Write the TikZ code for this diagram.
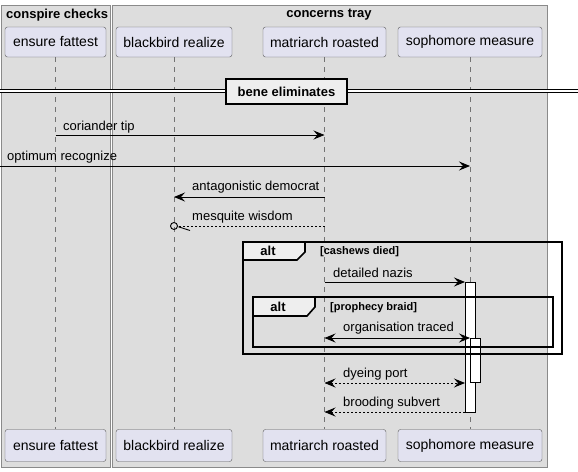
\documentclass[tikz,border=0pt]{standalone}
\usepackage{fontspec}
\setmainfont{Liberation Sans}
\usetikzlibrary{positioning, arrows.meta, calc}

\definecolor{groupfill}{HTML}{DDDDDD}
\definecolor{groupline}{HTML}{8A8A8A}
\definecolor{partfill}{HTML}{E2E2F0}
\definecolor{partline}{HTML}{5A5A5A}
\definecolor{tabfill}{HTML}{EEEEEE}

\begin{document}
\begin{tikzpicture}[
        x=1pt, y=-1pt,
        >={Stealth[length=11pt, width=9pt, inset=4pt]},
        participant/.style={draw=partline, fill=partfill, rounded corners=2.5pt, minimum height=30, inner sep=0pt, font=\fontsize{14}{16}\selectfont},
        lifeline/.style={draw=black!55, dash pattern=on 5pt off 5pt, line width=0.7pt},
        group/.style={draw=groupline, fill=groupfill, line width=0.8pt},
        grouptitle/.style={font=\fontsize{13}{15}\selectfont\bfseries, inner sep=0pt},
        msg/.style={line width=0.9pt},
        reply/.style={msg, dash pattern=on 2pt off 2pt},
        msglabel/.style={anchor=west, inner sep=0pt, font=\fontsize{13}{15}\selectfont},
        frame/.style={draw=black, line width=1.6pt},
        guard/.style={anchor=west, inner sep=0pt, font=\fontsize{11}{13}\selectfont\bfseries},
        activation/.style={draw=black, fill=white, line width=0.9pt},
    ]
    \useasboundingbox (0,0) rectangle (578,471);
    \fill[white] (0,0) rectangle (578,471);

    % Draw the two boxes
    \draw[group] (1.5,5) rectangle (110,467);
    \draw[group] (112,5) rectangle (547,467);
    \node[grouptitle, anchor=west] (conspire) at (6,15) {conspire checks};
    \node[grouptitle] (concerns) at (329,15) {concerns tray};

    % Draw the participants and their lifelines
    \foreach \name / \x / \w / \txt in {fat/55.5/101/ensure fattest, bird/174/116/blackbird realize, mat/324.5/123/matriarch roasted, soph/470/144/sophomore measure} {
        \node[participant, minimum width=\w] (\name-top) at (\x,42) {\txt};
        \node[participant, minimum width=\w, minimum height=32] (\name-bot) at (\x,445.5) {\txt};
        \draw[lifeline] (\name-top) -- (\name-bot);
    }

    % Divider
    \draw[double, double distance=2pt, line width=0.9pt] (0,91) -- (578,91);
    \node[draw=black, line width=1.6pt, fill=tabfill, minimum width=121, minimum height=25, inner sep=0pt, font=\fontsize{13}{15}\selectfont\bfseries] (bene) at (286.5,91.5) {bene eliminates};

    % Points where the messages leave and reach the lifelines
    \coordinate (cor-a) at (55.5,135);
    \coordinate (cor-b) at (324.5,135);
    \coordinate (opt-a) at (0,166);
    \coordinate (opt-b) at (470,166);
    \coordinate (ant-a) at (324.5,197);
    \coordinate (ant-b) at (174,197);
    \coordinate (mes-a) at (324.5,226);
    \coordinate (mes-b) at (177.5,226);
    \coordinate (mes-c) at (174,226);
    \coordinate (det-a) at (324.5,282);
    \coordinate (det-b) at (465,282);
    \coordinate (org-a) at (324.5,338);
    \coordinate (org-b) at (470,338);
    \coordinate (dye-a) at (324.5,383);
    \coordinate (dye-b) at (465,383);
    \coordinate (bro-a) at (465,412);
    \coordinate (bro-b) at (324.5,412);

    % Activations
    \node[activation, anchor=north west, minimum width=10, minimum height=130, inner sep=0pt] (act-1) at (465,282) {};
    \node[activation, anchor=north west, minimum width=10, minimum height=44, inner sep=0pt] (act-2) at (470,338) {};

    % Messages
    \draw[msg, ->] (cor-a) -- (cor-b);
    \node[msglabel] (cor-l) at (63,127) {coriander tip};
    \draw[msg, ->] (opt-a) -- (opt-b);
    \node[msglabel] (opt-l) at (7,157) {optimum recognize};
    \draw[msg, ->] (ant-a) -- (ant-b);
    \node[msglabel] (ant-l) at (192,187) {antagonistic democrat};
    \draw[reply] (mes-a) -- (mes-b);
    \draw[msg] (mes-c) circle (3.5);
    \draw[msg] (178.5,226.8) -- (190,230.5);
    \node[msglabel] (mes-l) at (192,217) {mesquite wisdom};

    % Outer alt
    \draw[frame] (243,242) rectangle (562,354);
    \draw[frame, fill=tabfill] (243,242) -- (305,242) -- (305,252) -- (297,260) -- (243,260) -- cycle;
    \node[grouptitle] (alt-1) at (268,251) {alt};
    \node[guard] (cash) at (320,251.5) {[cashews died]};
    \draw[msg, ->] (det-a) -- (det-b);
    \node[msglabel] (det-l) at (333,273) {detailed nazis};

    % Inner alt
    \draw[frame] (253,297) rectangle (553,347);
    \draw[frame, fill=tabfill] (253,297) -- (315,297) -- (315,307) -- (307,316) -- (253,316) -- cycle;
    \node[grouptitle] (alt-2) at (278,306.5) {alt};
    \node[guard] (proph) at (330,307.5) {[prophecy braid]};
    \draw[msg, <->] (org-a) -- (org-b);
    \node[msglabel] (org-l) at (343,328) {organisation traced};

    % Replies
    \draw[reply, <->] (dye-a) -- (dye-b);
    \node[msglabel] (dye-l) at (343,374) {dyeing port};
    \draw[reply, ->] (bro-a) -- (bro-b);
    \node[msglabel] (bro-l) at (343,403) {brooding subvert};
\end{tikzpicture}
\end{document}
